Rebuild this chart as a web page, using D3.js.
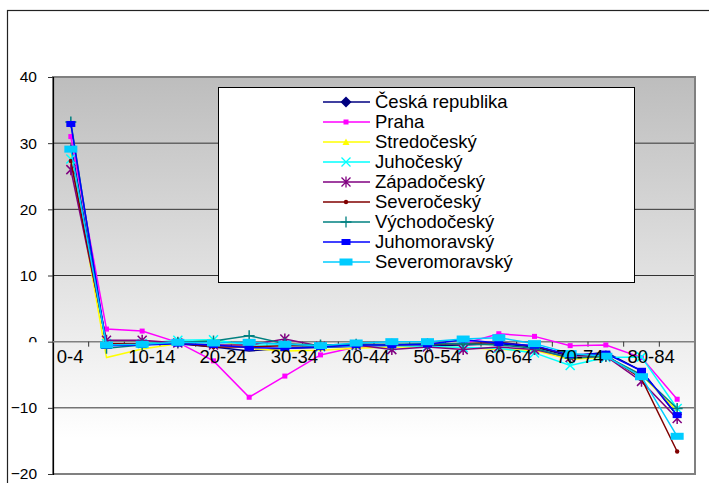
<!DOCTYPE html>
<meta charset="utf-8" />
<title>Age groups by region</title>
<style>
  body { margin: 0; background: #fff; }
  svg { display: block; font-family: "Liberation Sans", Arial, sans-serif; }
  .grid line { stroke: #333; stroke-width: 1px; }
  .series path { fill: none; stroke-width: 1.5px; }
  text { fill: #000; }
</style>
<body>
<svg width="709" height="483"></svg>
<script src="https://d3js.org/d3.v7.min.js"></script>
<script>
// age groups on the category axis
const categories = ["0-4", "5-9", "10-14", "15-19", "20-24", "25-29", "30-34", "35-39", "40-44",
  "45-49", "50-54", "55-59", "60-64", "65-69", "70-74", "75-79", "80-84", "85+"];

const seriesNames = ["Česká republika", "Praha", "Stredočeský", "Juhočeský", "Západočeský",
  "Severočeský", "Východočeský", "Juhomoravský", "Severomoravský"];

const ceskaRepublika = [29.8, -0.5, -0.4, -0.3, -0.8, -1.4, -1.0, -0.9, -0.7, -0.7, -0.6, -0.5, -0.3, -0.8, -2.2, -1.6, -4.4, -11.2];
const praha =          [31.0, 1.9, 1.6, -0.1, -2.9, -8.4, -5.2, -2.0, -0.8, -0.8, -0.3, -0.3, 1.2, 0.8, -0.6, -0.5, -2.4, -8.7];
const stredocesky =    [28.3, -2.4, -1.1, -0.3, 0.4, -1.0, -1.4, -1.3, -1.0, -0.8, -0.8, -0.9, -1.2, -1.3, -2.7, -2.3, -5.0, -10.5];
const juhocesky =      [27.6, -0.3, -0.3, 0.2, 0.3, -0.5, -0.5, -0.8, -0.6, -0.6, -0.7, -0.9, -1.0, -1.7, -3.6, -2.4, -2.3, -10.1];
const zapadocesky =    [26.0, 0.2, 0.2, -0.2, -0.5, -0.5, 0.4, -0.7, -0.5, -1.2, -0.8, -1.2, -0.8, -1.2, -2.4, -2.2, -6.0, -11.6];
const severocesky =    [27.3, -0.3, -0.3, -0.2, -0.8, -0.8, -0.6, -0.6, -0.4, -0.5, -0.4, -0.3, -0.1, -0.7, -2.0, -2.0, -5.6, -16.6];
const vychodocesky =   [33.2, -1.0, -0.5, -0.1, 0.1, 0.9, -0.3, -0.5, -0.4, -0.4, -0.3, -0.3, -0.5, -1.0, -2.5, -2.2, -5.0, -10.1];
const juhomoravsky =   [32.9, -0.6, -0.5, -0.3, -0.5, -0.9, -1.0, -0.8, -0.5, -0.5, -0.4, 0.3, -0.2, -0.6, -2.0, -1.8, -4.4, -11.1];
const severomoravsky = [29.1, -0.5, -0.4, -0.1, -0.2, -0.1, -0.4, -0.6, -0.2, 0.0, 0.0, 0.4, 0.6, -0.3, -1.8, -2.2, -5.3, -14.3];

const yTicks = [-20, -10, 0, 10, 20, 30, 40];

const seriesValues = [ceskaRepublika, praha, stredocesky, juhocesky, zapadocesky,
  severocesky, vychodocesky, juhomoravsky, severomoravsky];
const colors = ["#000080", "#ff00ff", "#ffff00", "#00ffff", "#800080", "#800000", "#008080", "#0000ff", "#00ccff"];
const markerTypes = ["diamond", "square", "triangle", "x", "star", "circle", "plus", "rect", "wide"];

const series = seriesNames.map((name, i) => ({ name, values: seriesValues[i], color: colors[i], marker: markerTypes[i] }));

const svg = d3.select("svg");
const plotLeft = 53, plotRight = 695, plotTop = 77, plotBottom = 474;

const x = d3.scaleBand().domain(categories).range([plotLeft, plotRight]).padding(0);
const cx = c => x(c) + x.bandwidth() / 2;
const y = d3.scaleLinear().domain([-20, 40]).range([plotBottom, plotTop]);

// outer chart frame
svg.append("rect")
  .attr("x", 7.5).attr("y", 10.5).attr("width", 720).attr("height", 500)
  .attr("fill", "#fff").attr("stroke", "#222").attr("stroke-width", 1.2);

const defs = svg.append("defs");
const grad = defs.append("linearGradient").attr("id", "bg").attr("x1", 0).attr("y1", 0).attr("x2", 0).attr("y2", 1);
grad.append("stop").attr("offset", "0%").attr("stop-color", "#bdbdbd");
grad.append("stop").attr("offset", "91%").attr("stop-color", "#ffffff");
grad.append("stop").attr("offset", "100%").attr("stop-color", "#ffffff");

svg.append("rect")
  .attr("x", plotLeft).attr("y", plotTop).attr("width", plotRight - plotLeft).attr("height", plotBottom - plotTop)
  .attr("fill", "url(#bg)");

// horizontal gridlines
svg.append("g").attr("class", "grid")
  .selectAll("line")
  .data(yTicks.filter(d => d !== 0 && d !== 40 && d !== -20))
  .join("line")
  .attr("x1", plotLeft).attr("x2", plotRight)
  .attr("y1", d => y(d)).attr("y2", d => y(d));

// plot border
svg.append("rect")
  .attr("x", plotLeft).attr("y", plotTop).attr("width", plotRight - plotLeft).attr("height", plotBottom - plotTop)
  .attr("fill", "none").attr("stroke", "#808080").attr("stroke-width", 2);

// value axis
defs.append("clipPath").attr("id", "zeroClip")
  .append("rect").attr("x", -60).attr("y", -20).attr("width", 60).attr("height", 20);

const yAxis = svg.append("g")
  .attr("transform", `translate(${plotLeft},0)`)
  .call(d3.axisLeft(y).tickValues(yTicks).tickSize(5).tickPadding(11).tickFormat(d3.format("d")));
yAxis.select(".domain").attr("stroke", "#000").attr("stroke-width", 1.2);
yAxis.selectAll(".tick line").attr("stroke", "#333");
yAxis.selectAll(".tick text")
  .attr("font-size", "15.5px")
  .attr("font-family", "'Liberation Sans', Arial, sans-serif")
  .attr("fill", "#000");
// the zero label is half hidden under the category labels
yAxis.selectAll(".tick").filter(d => d === 0).select("text").attr("clip-path", "url(#zeroClip)");

// category axis on zero line
svg.append("line")
  .attr("x1", plotLeft).attr("x2", plotRight).attr("y1", y(0)).attr("y2", y(0))
  .attr("stroke", "#808080").attr("stroke-width", 1.5);

svg.append("g").selectAll("line")
  .data(categories.slice(1))
  .join("line")
  .attr("x1", d => x(d)).attr("x2", d => x(d))
  .attr("y1", y(0)).attr("y2", y(0) + 5)
  .attr("stroke", "#333");

// markers
function drawMarker(g, type, color) {
  switch (type) {
    case "diamond":
      g.append("path").attr("d", "M0,-5.5L5.5,0L0,5.5L-5.5,0Z").attr("fill", color);
      break;
    case "square":
      g.append("rect").attr("x", -2.5).attr("y", -2.5).attr("width", 5).attr("height", 5).attr("fill", color);
      break;
    case "triangle":
      g.append("path").attr("d", "M0,-3.5L3.5,3L-3.5,3Z").attr("fill", color);
      break;
    case "x":
      g.append("path").attr("d", "M-4.5,-4.5L4.5,4.5M-4.5,4.5L4.5,-4.5").attr("stroke", color).attr("stroke-width", 1.3);
      break;
    case "star":
      g.append("path").attr("d", "M-4.5,-4.5L4.5,4.5M-4.5,4.5L4.5,-4.5M0,-5.5L0,5.5").attr("stroke", color).attr("stroke-width", 1.3);
      break;
    case "circle":
      g.append("circle").attr("r", 2.2).attr("fill", color);
      break;
    case "plus":
      g.append("path").attr("d", "M-5.5,0L5.5,0M0,-5.5L0,5.5").attr("stroke", color).attr("stroke-width", 1.3);
      break;
    case "rect":
      g.append("rect").attr("x", -4.5).attr("y", -3).attr("width", 9).attr("height", 6).attr("fill", color);
      break;
    case "wide":
      g.append("rect").attr("x", -6.5).attr("y", -3.5).attr("width", 13).attr("height", 7).attr("fill", color);
      break;
  }
}

const line = d3.line().x((d, i) => cx(categories[i])).y(d => y(d));

const groups = svg.append("g").selectAll("g")
  .data(series)
  .join("g")
  .attr("class", "series");

groups.append("path")
  .attr("d", d => line(d.values))
  .attr("stroke", d => d.color);

groups.each(function (s) {
  const g = d3.select(this);
  s.values.forEach((v, i) => {
    drawMarker(g.append("g").attr("transform", `translate(${cx(categories[i])},${y(v)})`), s.marker, s.color);
  });
});

// category labels, drawn over the lines
svg.append("g").selectAll("text")
  .data(categories.filter((d, i) => i % 2 === 0))
  .join("text")
  .attr("x", d => cx(d) - 14)
  .attr("y", y(0) + 21)
  .attr("font-size", "18.5px")
  .text(d => d);

// legend
const legend = svg.append("g");
legend.append("rect")
  .attr("x", 218.5).attr("y", 87.5).attr("width", 416).attr("height", 195)
  .attr("fill", "#fff").attr("stroke", "#000").attr("stroke-width", 1);

const items = legend.selectAll("g.item")
  .data(series)
  .join("g")
  .attr("class", "item")
  .attr("transform", (d, i) => `translate(0,${102 + i * 20})`);

items.append("line")
  .attr("x1", 323).attr("x2", 370).attr("y1", 0).attr("y2", 0)
  .attr("stroke", d => d.color).attr("stroke-width", 2).attr("stroke-opacity", 0.75);

items.each(function (s) {
  drawMarker(d3.select(this).append("g").attr("transform", "translate(346,0)"), s.marker, s.color);
});

items.append("text")
  .attr("x", 375).attr("y", 0).attr("dy", "0.35em")
  .attr("font-size", "18.5px")
  .text(d => d.name);
</script>
</body>
